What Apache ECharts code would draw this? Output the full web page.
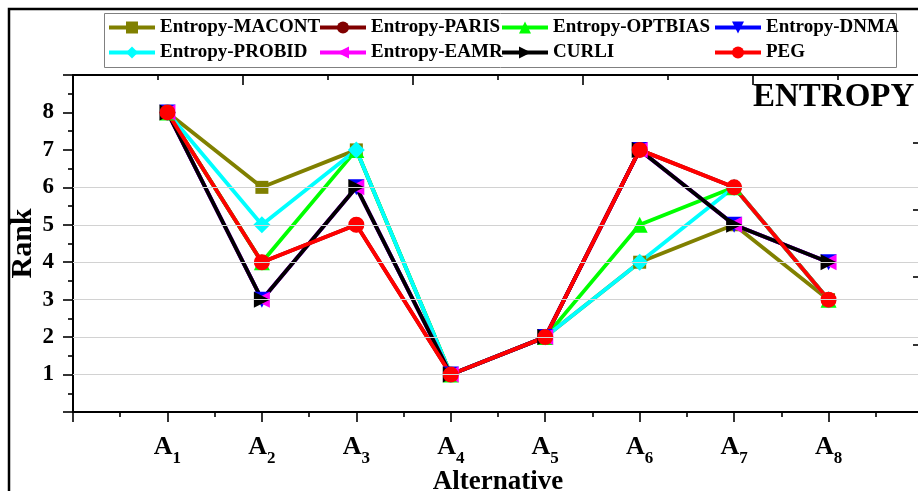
<!DOCTYPE html>
<html>
<head>
<meta charset="utf-8">
<script src="https://cdn.jsdelivr.net/npm/echarts@6/dist/echarts.min.js"></script>
<style>
  html, body { margin: 0; padding: 0; background: #ffffff; }
  #chart { width: 918px; height: 491px; }
</style>
</head>
<body>
<div id="chart"></div>
<script>
// Alternatives on the horizontal axis
const alternatives = ['A1', 'A2', 'A3', 'A4', 'A5', 'A6', 'A7', 'A8'];

// Rank of each alternative under every method
const entropyMacont  = [8, 6, 7, 1, 2, 4, 5, 3];
const entropyParis   = [8, 4, 5, 1, 2, 7, 6, 3];
const entropyOptbias = [8, 4, 7, 1, 2, 5, 6, 3];
const entropyDnma    = [8, 3, 6, 1, 2, 7, 5, 4];
const entropyProbid  = [8, 5, 7, 1, 2, 4, 6, 3];
const entropyEamr    = [8, 3, 6, 1, 2, 7, 5, 4];
const curli          = [8, 3, 6, 1, 2, 7, 5, 4];
const peg            = [8, 4, 5, 1, 2, 7, 6, 3];

// Rank tick labels and the ranks that carry a grid line
const rankTicks = [1, 2, 3, 4, 5, 6, 7, 8];
const rankGridLines = [1, 2, 3, 4, 5, 6];

const SERIF = '"Liberation Serif", "Times New Roman", serif';

const methods = [
  { name: 'Entropy-MACONT',  values: entropyMacont,  color: '#808000', symbol: 'rect',    size: 13 },
  { name: 'Entropy-PARIS',   values: entropyParis,   color: '#800000', symbol: 'circle',  size: 15 },
  { name: 'Entropy-OPTBIAS', values: entropyOptbias, color: '#00ff00', symbol: 'triangle', size: 16 },
  { name: 'Entropy-DNMA',    values: entropyDnma,    color: '#0000ff', symbol: 'path://M0,0 L10,0 L5,9 Z', size: 16 },
  { name: 'Entropy-PROBID',  values: entropyProbid,  color: '#00ffff', symbol: 'diamond', size: 17 },
  { name: 'Entropy-EAMR',    values: entropyEamr,    color: '#ff00ff', symbol: 'path://M9,0 L9,10 L0,5 Z', size: 16 },
  { name: 'CURLI',           values: curli,          color: '#000000', symbol: 'path://M0,0 L0,10 L9,5 Z', size: 16 },
  { name: 'PEG',             values: peg,            color: '#ff0000', symbol: 'circle',  size: 16 }
];

// Legend slots: two rows of four entries
const legendCols = [107, 318, 500, 713];
const legendRows = [18, 43];

const chart = echarts.init(document.getElementById('chart'), null, { renderer: 'canvas' });

const series = methods.map(m => ({
  name: m.name,
  type: 'line',
  xAxisIndex: 0,
  yAxisIndex: 0,
  data: m.values.map((v, i) => [i + 1, v]),
  symbol: m.symbol,
  symbolSize: m.size,
  showAllSymbol: true,
  lineStyle: { color: m.color, width: 3.8 },
  itemStyle: { color: m.color },
  emphasis: { disabled: true },
  animation: false
}));

// Horizontal rank grid lines, placed on the rank scale
series.unshift({
  name: 'grid',
  type: 'line',
  data: [],
  z: 0,
  silent: true,
  markLine: {
    silent: true,
    symbol: 'none',
    animation: false,
    label: { show: false },
    lineStyle: { color: '#d2d2d2', width: 1, type: 'solid' },
    data: rankGridLines.map(r => ({ yAxis: r }))
  }
});

const legends = methods.map((m, i) => ({
  data: [m.name],
  left: legendCols[i % 4],
  top: legendRows[Math.floor(i / 4)],
  padding: 0,
  itemWidth: 46,
  itemHeight: 15,
  selectedMode: false,
  lineStyle: { width: 4 },
  textStyle: { fontFamily: SERIF, fontWeight: 'bold', fontSize: 19, color: '#000' }
}));

const tickStyle = { color: '#000', width: 1.6 };

chart.setOption({
  backgroundColor: '#ffffff',
  animation: false,
  title: {
    text: 'ENTROPY',
    left: 753,
    top: 81,
    padding: 0,
    textStyle: { fontFamily: SERIF, fontWeight: 'bold', fontSize: 33, color: '#000' }
  },
  legend: legends,
  graphic: [
    {
      type: 'rect',
      shape: { x: 9, y: 9, width: 930, height: 500 },
      style: { fill: 'none', stroke: '#000', lineWidth: 2.5 },
      silent: true,
      z: -1
    },
    {
      type: 'rect',
      shape: { x: 104.5, y: 13.5, width: 792, height: 54 },
      style: { fill: '#fff', stroke: '#808080', lineWidth: 1 },
      silent: true,
      z: -1
    }
  ],
  grid: { left: 73, top: 75, width: 850, height: 337, containLabel: false, outerBoundsMode: 'none' },
  xAxis: [
    {
      type: 'value',
      position: 'bottom',
      min: 0,
      max: 9,
      interval: 1,
      name: 'Alternative',
      nameLocation: 'middle',
      nameGap: 57,
      nameMoveOverlap: false,
      nameTextStyle: { fontFamily: SERIF, fontWeight: 'bold', fontSize: 27, color: '#000' },
      axisLine: { show: true, onZero: false, lineStyle: { color: '#000', width: 2 } },
      axisTick: { show: true, length: 10, lineStyle: tickStyle },
      minorTick: { show: true, splitNumber: 2, length: 5, lineStyle: tickStyle },
      splitLine: { show: false },
      axisLabel: {
        margin: 22,
        formatter: v => {
          const a = alternatives[v - 1];
          return a ? '{a|' + a.charAt(0) + '}{s|' + a.slice(1) + '}' : '';
        },
        rich: {
          a: { fontFamily: SERIF, fontWeight: 'bold', fontSize: 26, color: '#000', verticalAlign: 'bottom' },
          s: { fontFamily: SERIF, fontWeight: 'bold', fontSize: 17, color: '#000', verticalAlign: 'bottom', padding: [0, 0, -7, 0] }
        }
      }
    },
    {
      type: 'value',
      position: 'top',
      min: 0,
      max: 5,
      interval: 1,
      axisLine: { show: true, onZero: false, lineStyle: { color: '#000', width: 2 } },
      axisTick: { show: true, inside: true, length: 10, lineStyle: tickStyle },
      minorTick: { show: true, splitNumber: 2, length: 5, lineStyle: tickStyle },
      splitLine: { show: false },
      axisLabel: { show: false }
    }
  ],
  yAxis: [
    {
      type: 'value',
      position: 'left',
      min: 0,
      max: 9,
      interval: 1,
      name: 'Rank',
      nameLocation: 'middle',
      nameGap: 35,
      nameMoveOverlap: false,
      nameTextStyle: { fontFamily: SERIF, fontWeight: 'bold', fontSize: 30, color: '#000' },
      axisLine: { show: true, onZero: false, lineStyle: { color: '#000', width: 2 } },
      axisTick: { show: true, length: 10, lineStyle: tickStyle },
      minorTick: { show: true, splitNumber: 2, length: 5, lineStyle: tickStyle },
      splitLine: { show: false },
      axisLabel: {
        margin: 19,
        formatter: v => (rankTicks.indexOf(v) >= 0 ? String(v) : ''),
        fontFamily: SERIF,
        fontWeight: 'bold',
        fontSize: 23,
        color: '#000'
      }
    },
    {
      type: 'value',
      position: 'right',
      min: 0,
      max: 5,
      interval: 1,
      axisLine: { show: true, onZero: false, lineStyle: { color: '#000', width: 2 } },
      axisTick: { show: true, inside: true, length: 10, lineStyle: tickStyle },
      minorTick: { show: true, splitNumber: 2, length: 5, lineStyle: tickStyle },
      splitLine: { show: false },
      axisLabel: { show: false }
    }
  ],
  series: series
});
</script>
</body>
</html>
